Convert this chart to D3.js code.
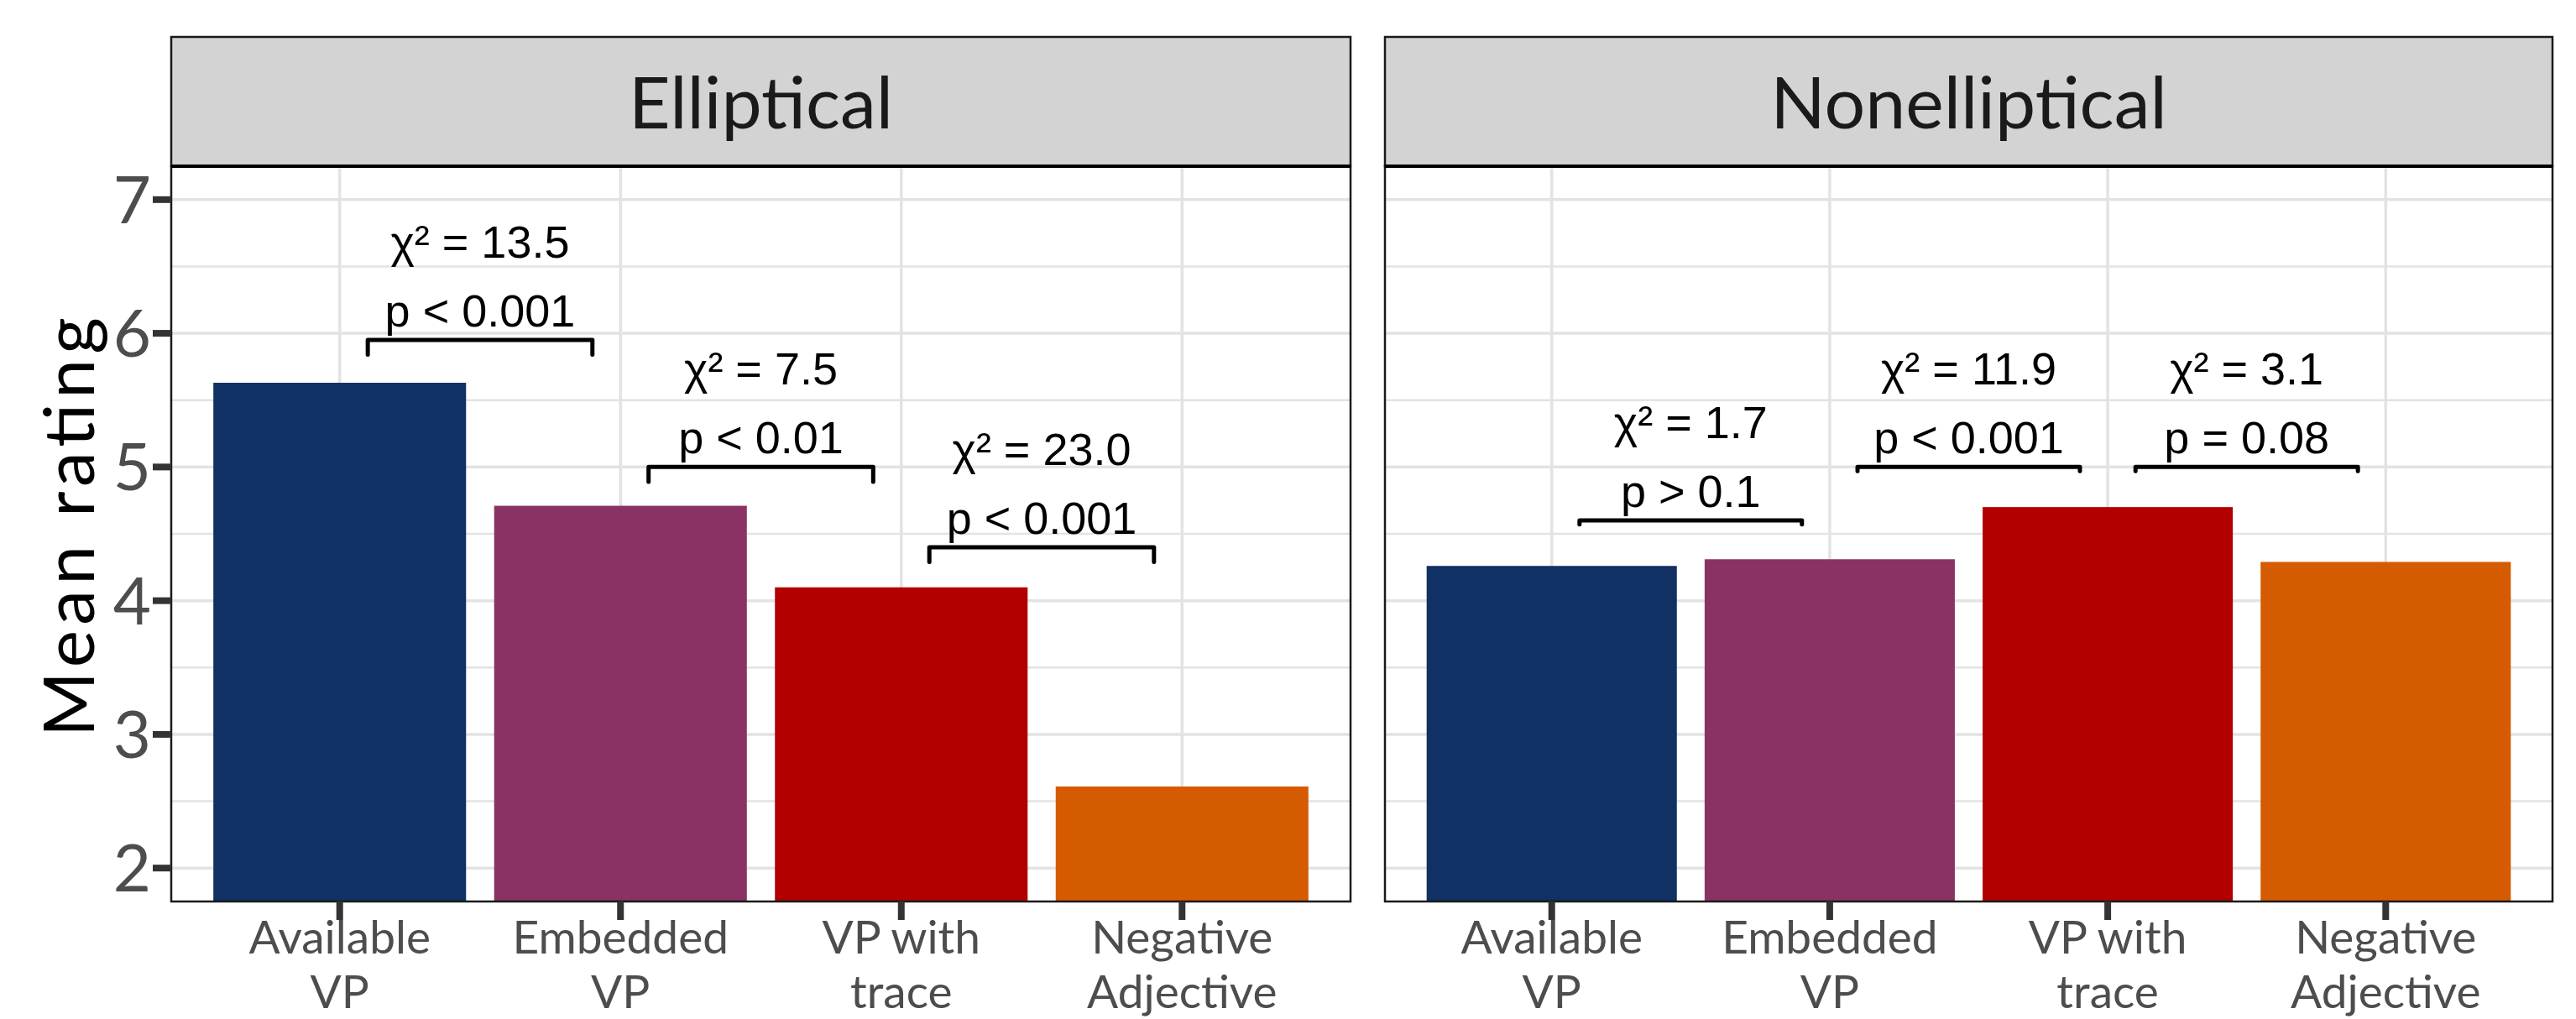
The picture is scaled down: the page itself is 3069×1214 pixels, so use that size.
<!DOCTYPE html>
<html>
<head>
<meta charset="utf-8">
<script src="https://cdn.jsdelivr.net/npm/d3@7"></script>
<style>
  html, body { margin: 0; padding: 0; background: #fff; }
  svg { display: block; }
</style>
</head>
<body>
<svg id="chart" width="3069" height="1214"></svg>
<script>
// ---------------- data ----------------
const categories = ["Available VP", "Embedded VP", "VP with trace", "Negative Adjective"];
const categoryLines = [["Available", "VP"], ["Embedded", "VP"], ["VP with", "trace"], ["Negative", "Adjective"]];
const panelNames = ["Elliptical", "Nonelliptical"];
const ellipticalValues = [5.63, 4.71, 4.10, 2.61];
const nonellipticalValues = [4.26, 4.31, 4.70, 4.29];
const barColors = ["#113064", "#8B3264", "#B20000", "#D55B00"];
const yTicks = [2, 3, 4, 5, 6, 7];
const yMinorTicks = [2.5, 3.5, 4.5, 5.5, 6.5];
const yTitle = "Mean rating";

// significance brackets (category index from -> to)
const ellipticalBracketFrom = [0, 1, 2];
const ellipticalBracketTo = [1, 2, 3];
const ellipticalBracketY = [5.95, 5.0, 4.4];
const ellipticalBracketTip = [0.11, 0.11, 0.11];
const ellipticalChi = ["13.5", "7.5", "23.0"];
const ellipticalP = ["p < 0.001", "p < 0.01", "p < 0.001"];

const nonellipticalBracketFrom = [0, 1, 2];
const nonellipticalBracketTo = [1, 2, 3];
const nonellipticalBracketY = [4.6, 5.0, 5.0];
const nonellipticalBracketTip = [0.03, 0.03, 0.03];
const nonellipticalChi = ["1.7", "11.9", "3.1"];
const nonellipticalP = ["p > 0.1", "p < 0.001", "p = 0.08"];

// ---------------- layout ----------------
const svg = d3.select("#chart");
const stripTop = 44, plotTop = 198, plotBottom = 1074;
const panelX = [[204, 1609], [1650, 3041]];
const uiFont = "Lato, 'Open Sans', sans-serif";
const annFont = "'Liberation Sans', Arial, sans-serif";

const y = d3.scaleLinear().domain([1.75, 7.25]).range([plotBottom, plotTop]);

const panels = [
  { name: panelNames[0], values: ellipticalValues, from: ellipticalBracketFrom, to: ellipticalBracketTo,
    by: ellipticalBracketY, tip: ellipticalBracketTip, chi: ellipticalChi, p: ellipticalP },
  { name: panelNames[1], values: nonellipticalValues, from: nonellipticalBracketFrom, to: nonellipticalBracketTo,
    by: nonellipticalBracketY, tip: nonellipticalBracketTip, chi: nonellipticalChi, p: nonellipticalP }
];

panels.forEach((pd, pi) => {
  const [x0, x1] = panelX[pi];
  const x = d3.scaleBand().domain(categories).range([x0, x1]).paddingInner(0.1).paddingOuter(0.15);
  const step = x.step();
  const cx = c => x(c) + x.bandwidth() / 2;
  const g = svg.append("g");

  // strip
  g.append("rect").attr("x", x0).attr("y", stripTop).attr("width", x1 - x0).attr("height", plotTop - stripTop)
    .attr("fill", "#D3D3D3").attr("stroke", "#1a1a1a").attr("stroke-width", 2.5);
  g.append("text").attr("x", (x0 + x1) / 2).attr("y", 153).attr("text-anchor", "middle")
    .attr("font-family", uiFont).attr("font-size", 86).attr("fill", "#1A1A1A").text(pd.name);

  // panel background
  g.append("rect").attr("x", x0).attr("y", plotTop).attr("width", x1 - x0).attr("height", plotBottom - plotTop)
    .attr("fill", "#fff");

  // grid
  g.selectAll(".minor").data(yMinorTicks).join("line")
    .attr("x1", x0).attr("x2", x1).attr("y1", d => y(d)).attr("y2", d => y(d))
    .attr("stroke", "#E3E3E3").attr("stroke-width", 2.5);
  g.selectAll(".major").data(yTicks).join("line")
    .attr("x1", x0).attr("x2", x1).attr("y1", d => y(d)).attr("y2", d => y(d))
    .attr("stroke", "#E3E3E3").attr("stroke-width", 3.5);
  g.selectAll(".vgrid").data(categories).join("line")
    .attr("x1", d => cx(d)).attr("x2", d => cx(d)).attr("y1", plotTop).attr("y2", plotBottom)
    .attr("stroke", "#E3E3E3").attr("stroke-width", 3.5);

  // bars
  g.selectAll(".bar").data(pd.values).join("rect")
    .attr("x", (d, i) => x(categories[i])).attr("width", x.bandwidth())
    .attr("y", d => y(d)).attr("height", d => plotBottom - y(d))
    .attr("fill", (d, i) => barColors[i]);

  // brackets
  pd.by.forEach((bv, bi) => {
    const xa = cx(categories[pd.from[bi]]) + 0.1 * step;
    const xb = cx(categories[pd.to[bi]]) - 0.1 * step;
    const yb = y(bv), yt = y(bv - pd.tip[bi]);
    g.append("path")
      .attr("d", d3.line()([[xa, yt], [xa, yb], [xb, yb], [xb, yt]]))
      .attr("fill", "none").attr("stroke", "#000").attr("stroke-width", 5)
      .attr("stroke-linejoin", "round").attr("stroke-linecap", "round");
    const mx = (xa + xb) / 2;
    g.append("text").attr("x", mx).attr("y", yb - 98).attr("text-anchor", "middle")
      .attr("font-family", annFont).attr("font-size", 54).attr("fill", "#000")
      .text("\u03C7\u00B2 = " + pd.chi[bi]);
    g.append("text").attr("x", mx).attr("y", yb - 16).attr("text-anchor", "middle")
      .attr("font-family", annFont).attr("font-size", 54).attr("fill", "#000")
      .text(pd.p[bi]);
  });

  // panel border
  g.append("rect").attr("x", x0).attr("y", plotTop).attr("width", x1 - x0).attr("height", plotBottom - plotTop)
    .attr("fill", "none").attr("stroke", "#1a1a1a").attr("stroke-width", 2.5);
  g.append("line").attr("x1", x0).attr("x2", x1).attr("y1", plotTop).attr("y2", plotTop)
    .attr("stroke", "#000").attr("stroke-width", 4);

  // x axis ticks + labels
  const xa = g.append("g");
  categories.forEach((c, i) => {
    xa.append("line").attr("x1", cx(c)).attr("x2", cx(c)).attr("y1", plotBottom).attr("y2", plotBottom + 22)
      .attr("stroke", "#333").attr("stroke-width", 8);
    categoryLines[i].forEach((ln, li) => {
      xa.append("text").attr("text-anchor", "middle").attr("font-family", uiFont)
        .attr("font-size", 55).attr("fill", "#4D4D4D")
        .attr("x", cx(c)).attr("y", 1136 + li * 65).text(ln);
    });
  });

  // y axis (only first panel)
  if (pi === 0) {
    const ya = g.append("g");
    yTicks.forEach(v => {
      ya.append("line").attr("x1", x0 - 22).attr("x2", x0).attr("y1", y(v)).attr("y2", y(v))
        .attr("stroke", "#333").attr("stroke-width", 8);
      ya.append("text").attr("x", 180).attr("y", y(v)).attr("dy", "0.36em").attr("text-anchor", "end")
        .attr("font-family", uiFont).attr("font-size", 78).attr("fill", "#4D4D4D").text(v);
    });
  }
});

// y title
svg.append("text")
  .attr("transform", "translate(112,628) rotate(-90)")
  .attr("text-anchor", "middle").attr("font-family", uiFont).attr("font-size", 84).attr("fill", "#000")
  .attr("textLength", 500).attr("lengthAdjust", "spacing")
  .text(yTitle);
</script>
</body>
</html>
